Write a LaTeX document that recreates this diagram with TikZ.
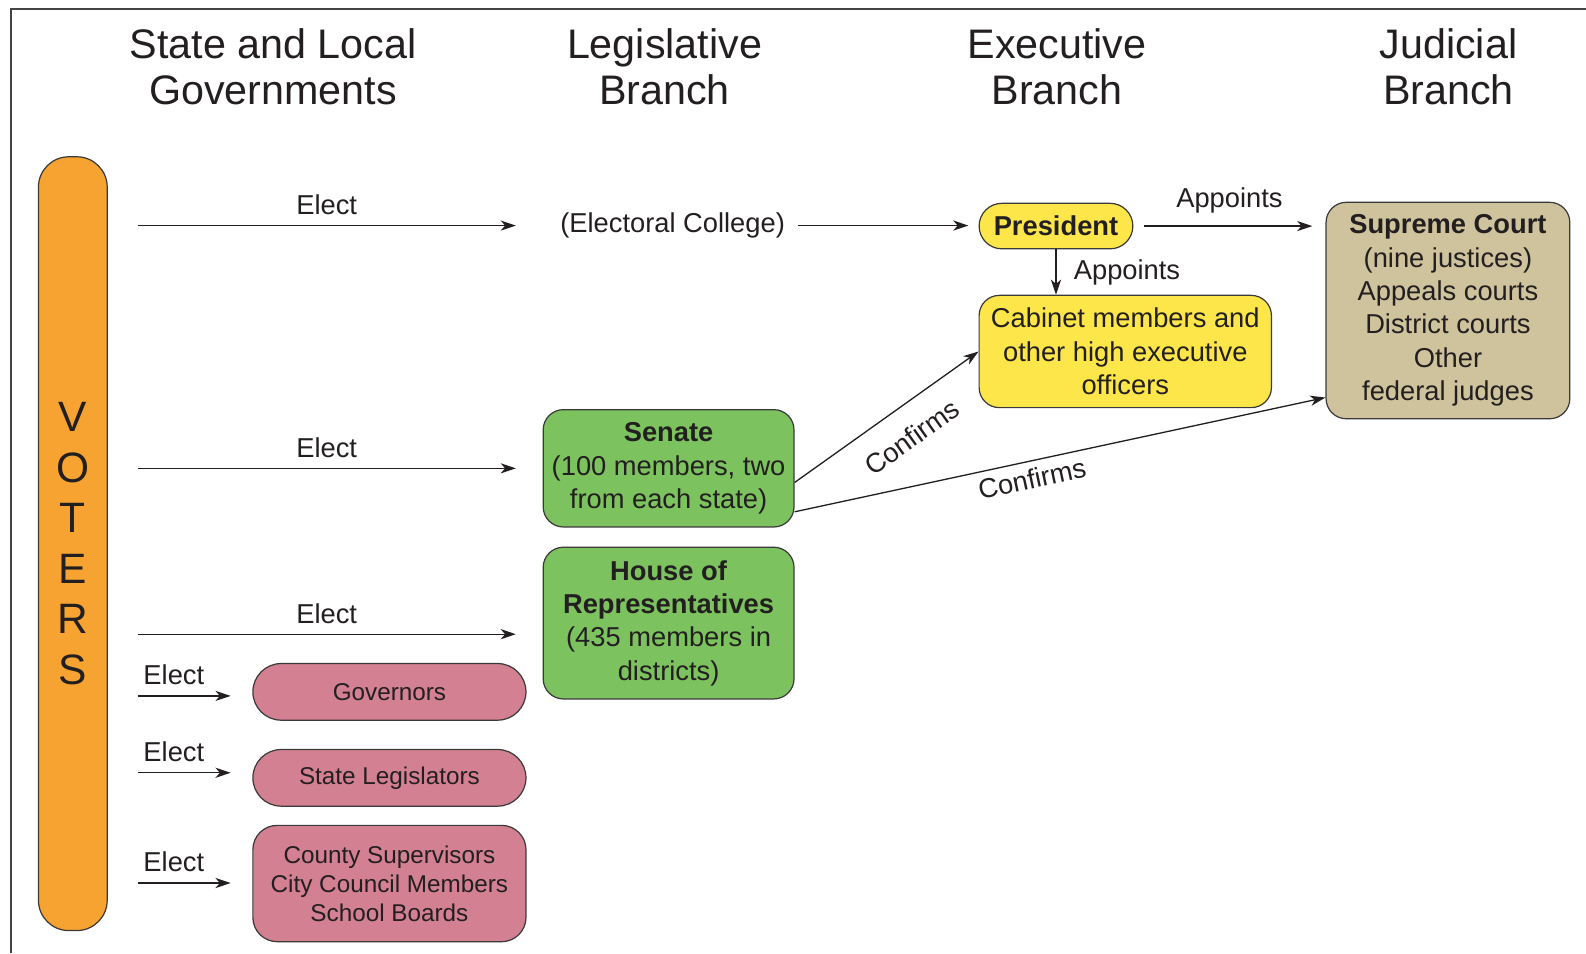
\documentclass[tikz,border=0pt]{standalone}
\usepackage{fontspec}
\setmainfont{Liberation Sans}
\usetikzlibrary{arrows.meta}
\definecolor{ink}{HTML}{231F20}
\definecolor{edge}{HTML}{3A3A3A}
\definecolor{frame}{HTML}{444444}
\definecolor{orangeV}{HTML}{F6A332}
\definecolor{yel}{HTML}{FCE64A}
\definecolor{grn}{HTML}{7CC35F}
\definecolor{tan}{HTML}{CEC39C}
\definecolor{pnk}{HTML}{D38192}
\begin{document}
\begin{tikzpicture}[x=0.5pt,y=-0.5pt,
  every node/.style={text=ink},
  txt/.style={font=\fontsize{13.5}{16.5}\selectfont},
  smalltxt/.style={font=\fontsize{12}{14.25}\selectfont},
  head/.style={font=\fontsize{20.4}{22.5}\selectfont, align=center},
  box/.style={draw=edge, line width=0.6pt, align=center, inner sep=0pt, txt},
  arr/.style={-{Stealth[length=7.5pt,width=5pt,inset=2.2pt]}, line width=0.65pt, draw=ink},
  lbl/.style={txt, inner sep=2pt}
]
\useasboundingbox (0,0) rectangle (1568,942.2);
\draw[frame, line width=1pt] (11,942.2) -- (11,9) -- (1568,9);

% headings
\node[head] (h1) at (270,66) {State and Local\\Governments};
\node[head] (h2) at (657,66) {Legislative\\Branch};
\node[head] (h3) at (1045,66) {Executive\\Branch};
\node[head] (h4) at (1432,66) {Judicial\\Branch};

% voters
\node[box, fill=orangeV, minimum width=34pt, minimum height=382.5pt, rounded corners=15pt,
      font=\fontsize{21}{25}\selectfont] (voters) at (72,537.5) {V\\O\\T\\E\\R\\S};

% federal
\node[txt, inner sep=3pt] (ec) at (665,223) {(Electoral College)};
\node[box, fill=yel, minimum width=76pt, minimum height=22.5pt, rounded corners=11.25pt,
      font=\bfseries\fontsize{13.5}{16.5}\selectfont] (pres) at (1044,223.5) {President};
\node[box, fill=yel, minimum width=144.5pt, minimum height=55.5pt, rounded corners=10pt] (cab) at (1112.5,347.5)
  {Cabinet members and\\other high executive\\officers};
\node[box, fill=tan, minimum width=120.5pt, minimum height=107pt, rounded corners=10pt] (sc) at (1431.5,307)
  {\textbf{Supreme Court}\\(nine justices)\\Appeals courts\\District courts\\Other\\federal judges};
\node[box, fill=grn, minimum width=124pt, minimum height=58pt, rounded corners=10pt] (sen) at (661,463)
  {\textbf{Senate}\\(100 members, two\\from each state)};
\node[box, fill=grn, minimum width=124pt, minimum height=75pt, rounded corners=10pt] (house) at (661,616)
  {\textbf{House of}\\\textbf{Representatives}\\(435 members in\\districts)};

% state and local
\node[box, smalltxt, fill=pnk, minimum width=135pt, minimum height=28pt, rounded corners=14pt] (gov) at (385,684) {Governors};
\node[box, smalltxt, fill=pnk, minimum width=135pt, minimum height=28pt, rounded corners=14pt] (sl) at (385,769) {State Legislators};
\node[box, smalltxt, fill=pnk, minimum width=135pt, minimum height=57.5pt, rounded corners=12pt] (cty) at (385,873.5)
  {County Supervisors\\City Council Members\\School Boards};

% elect arrows
\coordinate (s1) at (136,223); \coordinate (t1) at (510,223);
\coordinate (s2) at (136,463); \coordinate (t2) at (510,463);
\coordinate (s3) at (136,627); \coordinate (t3) at (510,627);
\coordinate (s4) at (136,688); \coordinate (t4) at (228,688);
\coordinate (s5) at (136,764); \coordinate (t5) at (228,764);
\coordinate (s6) at (136,873); \coordinate (t6) at (228,873);
\draw[arr] (s1) -- node[lbl, above=3pt]{Elect} (t1);
\draw[arr] (s2) -- node[lbl, above=3pt]{Elect} (t2);
\draw[arr] (s3) -- node[lbl, above=3pt]{Elect} (t3);
\draw[arr] (s4) -- node[lbl, above=3pt, pos=0.39]{Elect} (t4);
\draw[arr] (s5) -- node[lbl, above=3pt, pos=0.39]{Elect} (t5);
\draw[arr] (s6) -- node[lbl, above=3pt, pos=0.39]{Elect} (t6);

% federal arrows
\draw[arr, shorten <=3pt, shorten >=5pt] (ec.east) -- (ec.east -| pres.west);
\draw[arr, shorten <=5pt, shorten >=6.5pt] (pres.east) -- node[lbl, above=4pt]{Appoints} (pres.east -| sc.west);
\draw[arr] (pres.south) -- node[lbl, right=6.5pt]{Appoints} (pres.south |- cab.north);
\draw[arr] ([yshift=-7pt]sen.east) -- node[lbl, sloped, below=8pt, pos=0.54]{Confirms} (cab.west);
\draw[arr] ([yshift=-21.5pt]sen.east) -- node[lbl, sloped, below=1.5pt, pos=0.44]{Confirms} ([yshift=-43pt]sc.west);
\end{tikzpicture}
\end{document}
